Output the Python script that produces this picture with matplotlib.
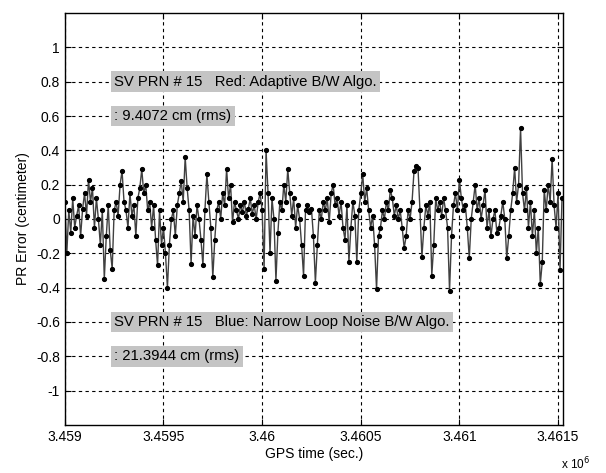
import numpy as np
import matplotlib
matplotlib.use('Agg')
import matplotlib.pyplot as plt

plt.rcParams['font.family'] = ['Liberation Sans', 'DejaVu Sans']

# GPS time: one sample every 10 s starting at 3.459e6
t_start = 3.459e6
t_step = 10.0

# PR error, one value per sample
pr_error = [
    0.10, -0.20, 0.05, -0.08, 0.12, -0.05, 0.02, 0.08, -0.10, 0.06,
    0.15, 0.02, 0.23, 0.10, 0.18, -0.05, 0.12, 0.00, -0.15, 0.05,
    -0.35, -0.10, 0.08, -0.18, -0.29, 0.05, 0.10, 0.02, 0.20, 0.28,
    0.10, 0.05, -0.05, 0.15, 0.02, 0.08, -0.10, 0.12, 0.18, 0.29,
    0.15, 0.20, 0.05, 0.10, -0.05, 0.08, -0.12, -0.27, 0.05, -0.15,
    -0.05, -0.20, -0.40, -0.15, 0.00, 0.05, -0.10, 0.08, 0.15, 0.22,
    0.10, 0.36, 0.18, 0.05, -0.26, 0.02, -0.10, 0.08, 0.00, -0.12,
    -0.27, 0.05, 0.26, 0.10, -0.05, -0.34, -0.12, 0.05, 0.10, 0.00,
    0.15, 0.08, 0.29, 0.12, 0.20, -0.02, 0.10, 0.05, 0.00, 0.08,
    0.04, 0.10, 0.02, 0.06, 0.12, 0.03, 0.08, 0.00, 0.10, 0.15,
    0.05, -0.29, 0.40, 0.15, -0.20, 0.12, 0.00, -0.36, -0.08, 0.10,
    0.05, 0.20, 0.10, 0.29, 0.15, 0.02, 0.12, -0.05, 0.08, 0.00,
    -0.15, -0.33, 0.05, 0.08, 0.04, 0.06, -0.10, -0.37, -0.15, 0.05,
    0.00, 0.10, 0.05, 0.12, -0.02, 0.15, 0.20, 0.08, 0.12, 0.02,
    0.10, -0.05, -0.12, 0.08, -0.25, -0.05, 0.10, 0.02, -0.25, 0.05,
    0.15, 0.26, 0.10, 0.18, 0.05, -0.05, 0.02, -0.15, -0.41, -0.10,
    -0.05, 0.05, 0.00, 0.10, 0.05, 0.17, 0.12, 0.02, 0.08, 0.00,
    0.05, -0.05, -0.17, -0.10, 0.05, 0.00, 0.10, 0.28, 0.31, 0.30,
    0.05, -0.22, -0.05, 0.08, 0.02, 0.10, -0.33, -0.15, 0.12, 0.05,
    0.10, 0.02, 0.12, 0.05, -0.05, -0.42, -0.10, 0.08, 0.15, 0.05,
    0.23, 0.12, 0.05, 0.08, -0.05, -0.23, 0.00, 0.10, 0.20, 0.05,
    0.12, 0.00, 0.08, 0.17, -0.05, 0.05, -0.10, 0.00, 0.05, -0.08,
    -0.05, 0.02, 0.10, 0.00, -0.23, -0.10, 0.05, 0.15, 0.30, 0.10,
    0.20, 0.53, 0.15, 0.05, 0.18, -0.05, 0.10, -0.10, 0.05, -0.20,
    -0.05, -0.38, -0.25, 0.17, 0.05, 0.20, 0.10, 0.35, 0.08, -0.05,
    0.15, -0.30, 0.12,
]

x_ticks = [3.459e6, 3.4595e6, 3.46e6, 3.4605e6, 3.461e6, 3.4615e6]
x_ticklabels = ['3.459', '3.4595', '3.46', '3.4605', '3.461', '3.4615']
y_ticks = [-1, -0.8, -0.6, -0.4, -0.2, 0, 0.2, 0.4, 0.6, 0.8, 1]
y_ticklabels = ['-1', '-0.8', '-0.6', '-0.4', '-0.2', '0', '0.2', '0.4', '0.6', '0.8', '1']

gps_time = t_start + t_step * np.arange(len(pr_error))

fig = plt.figure(figsize=(6.06, 4.73), dpi=100)
ax = fig.add_axes([0.107, 0.1015, 0.822, 0.871])

ax.plot(gps_time, pr_error, color='#404040', linewidth=1.0, marker='.',
        markersize=5.5, markerfacecolor='black', markeredgecolor='black')

ax.set_xlim(3.459e6, 3.461525e6)
ax.set_ylim(-1.2, 1.2)
ax.set_xticks(x_ticks)
ax.set_xticklabels(x_ticklabels)
ax.set_yticks(y_ticks)
ax.set_yticklabels(y_ticklabels)
ax.tick_params(direction='in', top=True, right=True, labelsize=10, length=4)
ax.grid(True, color='black', linestyle=(0, (3, 3)), linewidth=0.8)
for s in ax.spines.values():
    s.set_linewidth(1.0)

ax.set_xlabel('GPS time (sec.)', fontsize=10, labelpad=2)
ax.set_ylabel('PR Error (centimeter)', fontsize=10, labelpad=4)
fig.text(0.95, 0.008, r'x 10$^6$', fontsize=8.5, ha='center')

box = dict(facecolor='#c4c4c4', edgecolor='none', pad=2.5)
x_txt = 3.45925e6
ax.text(x_txt, 0.8, 'SV PRN # 15   Red: Adaptive B/W Algo.', fontsize=10.7,
        va='center', bbox=box)
ax.text(x_txt, 0.6, ': 9.4072 cm (rms)', fontsize=10.7, va='center', bbox=box)
ax.text(x_txt, -0.6, 'SV PRN # 15   Blue: Narrow Loop Noise B/W Algo.', fontsize=10.7,
        va='center', bbox=box)
ax.text(x_txt, -0.8, ': 21.3944 cm (rms)', fontsize=10.7, va='center', bbox=box)

fig.savefig('out.png', dpi=100)
